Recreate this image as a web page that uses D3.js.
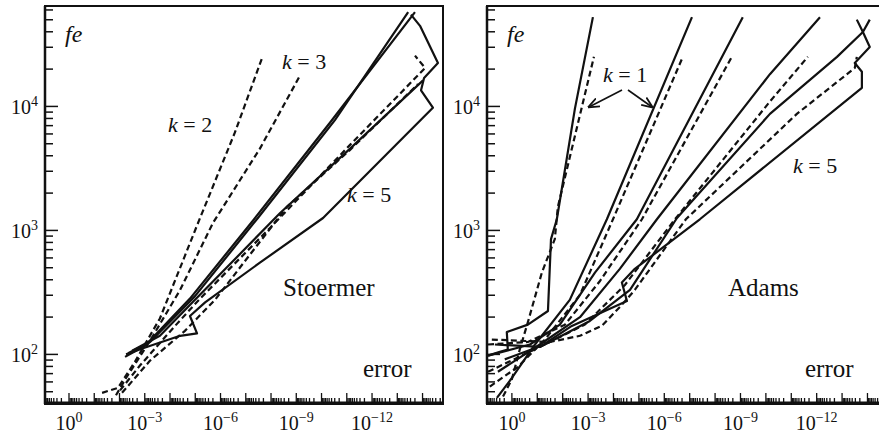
<!DOCTYPE html>
<html>
<head>
<meta charset="utf-8">
<script src="https://cdnjs.cloudflare.com/ajax/libs/d3/7.8.5/d3.min.js"></script>
<style>
body { margin: 0; background: #fff; }
svg { display: block; font-family: 'Liberation Serif', 'Times New Roman', serif; }
</style>
</head>
<body>
<svg id="chart" width="879" height="438"></svg>
<script>
// every point is [log10(error), log10(fe)]

// Stoermer panel
var stoermerSolid = [
  [[-2.22,1.98],[-3.01,2.07],[-4.79,2.45],[-7.29,3.08],[-10.34,3.87],[-13.70,4.76]],
  [[-2.34,2.01],[-3.21,2.10],[-4.99,2.47],[-7.48,3.10],[-10.53,3.89],[-13.43,4.76]],
  [[-2.50,2.03],[-3.60,2.15],[-4.99,2.44],[-8.36,3.14],[-11.13,3.66],[-14.02,4.21]],
  [[-2.26,2.00],[-2.93,2.05],[-4.40,2.15],[-5.07,2.17],[-4.79,2.31],[-5.39,2.42],[-7.56,2.74],
   [-10.06,3.10],[-14.41,3.99],[-13.94,4.13],[-14.06,4.23],[-14.61,4.35],[-13.90,4.65],[-13.54,4.74]]
];
var stoermerDashed = [
  [[-1.31,1.69],[-1.94,1.73],[-2.61,1.94],[-3.60,2.29],[-5.07,3.04],[-6.57,3.79],[-7.68,4.41]],
  [[-1.86,1.67],[-2.26,1.81],[-3.21,2.11],[-4.40,2.52],[-5.70,3.06],[-7.56,3.66],[-9.15,4.25]],
  [[-2.02,1.71],[-2.81,1.91],[-4.20,2.23],[-5.19,2.45],[-7.96,3.02],[-11.13,3.69],[-14.10,4.31],[-13.70,4.41]],
  [[-2.10,1.69],[-3.21,1.95],[-4.59,2.19],[-5.78,2.44],[-8.63,3.19],[-11.13,3.65],[-13.82,4.18]]
];

// Adams panel
var adamsSolid = [
  [[0.94,1.99],[0.47,2.02],[0.16,2.04],[0.20,2.18],[-0.63,2.24],[-1.42,2.35],[-1.54,2.93],[-1.77,3.09],[-2.48,3.98],[-3.19,4.72]],
  [[0.59,1.65],[0,1.81],[-0.91,2.08],[-2.28,2.44],[-3.74,3.09],[-7.09,4.72]],
  [[0.94,1.99],[-0.71,2.08],[-1.89,2.24],[-3.27,2.66],[-4.92,3.09],[-9.09,4.72]],
  [[0.55,1.86],[-1.10,2.08],[-2.68,2.30],[-4.25,2.69],[-5.71,3.09],[-10.16,4.26],[-12.13,4.72]],
  [[0.28,1.96],[-1.30,2.08],[-3.07,2.27],[-4.65,2.52],[-6.50,3.10],[-10.16,3.94],[-12.80,4.40],[-13.82,4.60],[-14.09,4.70]],
  [[0.67,2.08],[-1.10,2.06],[-2.36,2.23],[-3.66,2.35],[-4.53,2.43],[-4.33,2.58],[-4.84,2.69],[-7.40,3.09],
   [-13.78,4.15],[-13.78,4.28],[-13.50,4.35],[-14.09,4.48],[-13.82,4.60],[-13.58,4.70]]
];
var adamsDashed = [
  [[0.35,1.66],[0,1.80],[-0.31,2.04],[-0.63,2.26],[-1.18,2.66],[-1.69,2.93],[-1.81,3.19],[-3.23,4.40]],
  [[0.87,1.74],[-0.24,1.90],[-1.30,2.12],[-2.68,2.48],[-3.98,3.09],[-6.73,4.40]],
  [[0.94,2.08],[-0.63,2.10],[-2.09,2.24],[-3.46,2.59],[-5.12,3.09],[-8.66,4.40]],
  [[0.94,1.86],[-1.10,2.06],[-2.87,2.24],[-4.45,2.56],[-6.42,3.09],[-10.16,4.04],[-11.65,4.40]],
  [[0.79,2.12],[-1.50,2.10],[-2.68,2.15],[-3.54,2.23],[-4.33,2.40],[-4.84,2.52],[-6.85,3.09],[-11.22,3.94],[-13.50,4.31],[-13.58,4.40]]
];

var xTickExp = [0, -3, -6, -9, -12];
var yTickExp = [2, 3, 4];

var svg = d3.select("#chart");

function panel(opt) {
  var x = d3.scaleLog().domain([Math.pow(10, opt.e0), Math.pow(10, opt.e1)]).range([opt.x0, opt.x1]);
  var y = d3.scaleLog().domain([Math.pow(10, 1.6), Math.pow(10, 4.81)]).range([404, 6]);
  var g = svg.append("g");

  var clipId = "clip" + opt.name;
  g.append("clipPath").attr("id", clipId).append("rect")
    .attr("x", opt.x0).attr("y", 6).attr("width", opt.x1 - opt.x0).attr("height", 398);

  var line = d3.line()
    .x(function(d) { return x(Math.pow(10, d[0])); })
    .y(function(d) { return y(Math.pow(10, d[1])); });

  var curves = g.append("g").attr("clip-path", "url(#" + clipId + ")");
  curves.selectAll("path.solid").data(opt.solid).enter().append("path")
    .attr("class", "solid").attr("d", line)
    .attr("fill", "none").attr("stroke", "#111").attr("stroke-width", 2.2)
    .attr("stroke-linejoin", "round");
  curves.selectAll("path.dash").data(opt.dashed).enter().append("path")
    .attr("class", "dash").attr("d", line)
    .attr("fill", "none").attr("stroke", "#111").attr("stroke-width", 2.2)
    .attr("stroke-dasharray", "6,3.5");

  // frame
  g.append("rect").attr("x", opt.x0).attr("y", 6).attr("width", opt.x1 - opt.x0).attr("height", 398)
    .attr("fill", "none").attr("stroke", "#111").attr("stroke-width", 2);
  g.append("line").attr("x1", opt.x0).attr("x2", opt.x1).attr("y1", 403).attr("y2", 403)
    .attr("stroke", "#111").attr("stroke-width", 3);
  g.append("line").attr("x1", opt.x0).attr("x2", opt.x0).attr("y1", 6).attr("y2", 404)
    .attr("stroke", "#111").attr("stroke-width", 2.5);

  // x ticks (log, minor 2..9)
  var xt = [];
  for (var k = 1; k >= -15; k--) {
    for (var m = 1; m <= 9; m++) {
      var v = m * Math.pow(10, k);
      var px = x(v);
      if (px > opt.x0 + 1 && px < opt.x1) xt.push({ v: v, major: m === 1 });
    }
  }
  g.selectAll("line.xt").data(xt).enter().append("line").attr("class", "xt")
    .attr("x1", function(d) { return x(d.v); }).attr("x2", function(d) { return x(d.v); })
    .attr("y1", 404).attr("y2", function(d) { return d.major ? 393 : 398; })
    .attr("stroke", "#111").attr("stroke-width", 1.3);

  var yt = [];
  for (var k2 = 1; k2 <= 4; k2++) {
    for (var m2 = 1; m2 <= 9; m2++) {
      var v2 = m2 * Math.pow(10, k2);
      var py = y(v2);
      if (py > 7 && py < 403) yt.push({ v: v2, major: m2 === 1 });
    }
  }
  g.selectAll("line.yt").data(yt).enter().append("line").attr("class", "yt")
    .attr("y1", function(d) { return y(d.v); }).attr("y2", function(d) { return y(d.v); })
    .attr("x1", opt.x0).attr("x2", function(d) { return opt.x0 + (d.major ? 13 : 8); })
    .attr("stroke", "#111").attr("stroke-width", 1.5);

  // tick labels
  var xl = g.selectAll("text.xl").data(xTickExp).enter().append("text").attr("class", "xl")
    .attr("x", function(d) { return x(Math.pow(10, d)); }).attr("y", 430)
    .attr("text-anchor", "middle").attr("font-size", 20).attr("fill", "#111");
  xl.append("tspan").text("10");
  xl.append("tspan").attr("dy", -8).attr("font-size", 14).text(function(d) { return d === 0 ? "0" : "\u2212" + (-d); });

  var yl = g.selectAll("text.yl").data(yTickExp).enter().append("text").attr("class", "yl")
    .attr("x", opt.x0 - 7).attr("y", function(d) { return y(Math.pow(10, d)) + 8; })
    .attr("text-anchor", "end").attr("font-size", 20).attr("fill", "#111");
  yl.append("tspan").text("10");
  yl.append("tspan").attr("dy", -8).attr("font-size", 14).text(function(d) { return d; });

  g.append("text").attr("x", opt.x0 + 20).attr("y", 42).attr("font-size", 24)
    .attr("font-style", "italic").attr("fill", "#111").text("fe");
  g.append("text").attr("x", opt.x1 - 80).attr("y", 377).attr("font-size", 25)
    .attr("fill", "#111").text("error");
  g.append("text").attr("x", opt.nameX).attr("y", 296).attr("font-size", 25)
    .attr("fill", "#111").text(opt.name);

  opt.kLabels.forEach(function(l) {
    var t = g.append("text").attr("x", l.x).attr("y", l.y).attr("font-size", 22).attr("fill", "#111");
    t.append("tspan").attr("font-style", "italic").text("k");
    t.append("tspan").text(" = " + l.k);
  });
  return { g: g, x: x, y: y };
}

panel({ name: "Stoermer", x0: 45, x1: 443, e0: 0.95, e1: -14.81, nameX: 283,
  solid: stoermerSolid, dashed: stoermerDashed,
  kLabels: [{ k: 2, x: 168, y: 132 }, { k: 3, x: 282, y: 69 }, { k: 5, x: 347, y: 202 }] });

panel({ name: "Adams", x0: 487, x1: 885, e0: 0.98, e1: -14.69, nameX: 728,
  solid: adamsSolid, dashed: adamsDashed,
  kLabels: [{ k: 1, x: 603, y: 82 }, { k: 5, x: 793, y: 173 }] });

// arrows from the k = 1 label
svg.append("defs").append("marker").attr("id", "arr").attr("viewBox", "0 0 10 10")
  .attr("refX", 9).attr("refY", 5).attr("markerWidth", 7).attr("markerHeight", 7).attr("orient", "auto")
  .append("path").attr("d", "M0,1 L10,5 L0,9").attr("fill", "none").attr("stroke", "#111").attr("stroke-width", 1.6);
[[622, 90, 589, 107], [628, 90, 652, 107]].forEach(function(a) {
  svg.append("line").attr("x1", a[0]).attr("y1", a[1]).attr("x2", a[2]).attr("y2", a[3])
    .attr("stroke", "#111").attr("stroke-width", 1.6).attr("marker-end", "url(#arr)");
});
</script>
</body>
</html>
